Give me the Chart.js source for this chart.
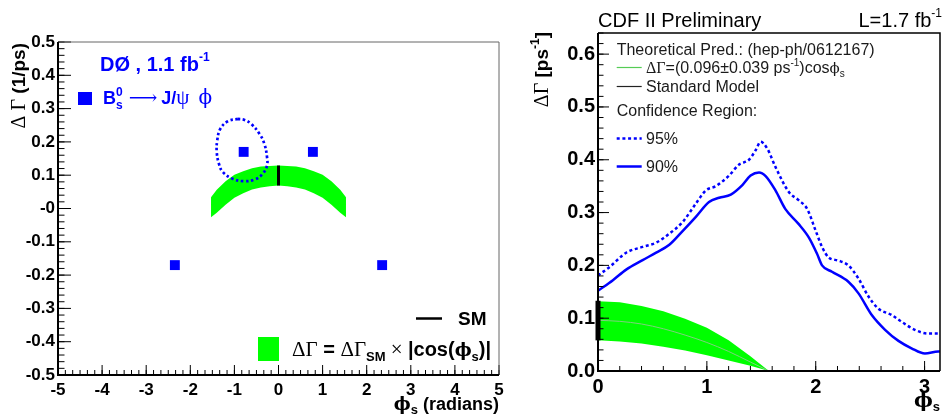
<!DOCTYPE html>
<html><head><meta charset="utf-8">
<script src="https://cdn.jsdelivr.net/npm/chart.js@4/dist/chart.umd.min.js"></script>
<style>
html,body{margin:0;padding:0;background:#fff;overflow:hidden}
#wrap{position:relative;width:942px;height:415px;background:#fff}
.c{position:absolute;top:0}
</style></head><body>
<div id="wrap">
<div class="c" style="left:0;width:515px;height:415px"><canvas id="left" width="515" height="415"></canvas></div>
<div class="c" style="left:515px;width:427px;height:415px"><canvas id="right" width="427" height="415"></canvas></div>
</div>
<script>
// ---------------- LEFT PANEL (D0) ----------------
const leftXTicks = [-5,-4,-3,-2,-1,0,1,2,3,4,5];
const leftXLabels = ['-5','-4','-3','-2','-1','0','1','2','3','4','5'];
const leftYTicks = [-0.5,-0.4,-0.3,-0.2,-0.1,0,0.1,0.2,0.3,0.4,0.5];
const leftYLabels = ['-0.5','-0.4','-0.3','-0.2','-0.1','-0','0.1','0.2','0.3','0.4','0.5'];

const solutionX = [-2.35,-0.79,0.78,2.35];
const solutionY = [-0.17,0.17,0.17,-0.17];

const contourX = [-0.92,-1.15,-1.32,-1.39,-1.40,-1.35,-1.26,-1.04,-0.79,-0.54,-0.36,-0.26,-0.26,-0.32,-0.43,-0.62,-0.77,-0.92];
const contourY = [0.269,0.262,0.239,0.204,0.169,0.134,0.109,0.089,0.082,0.087,0.104,0.129,0.154,0.194,0.224,0.254,0.266,0.269];

const smBandX      = [-1.53,-1.4,-1.2,-1.0,-0.8,-0.6,-0.4,-0.2,0,0.2,0.4,0.6,0.8,1.0,1.2,1.4,1.53];
const smBandTop    = [0.034,0.056,0.082,0.101,0.112,0.121,0.126,0.128,0.129,0.128,0.126,0.121,0.112,0.101,0.082,0.056,0.034];
const smBandBottom = [-0.026,-0.013,0.011,0.032,0.046,0.057,0.063,0.067,0.069,0.067,0.063,0.057,0.046,0.032,0.011,-0.013,-0.026];

const smLeftX = [0,0];
const smLeftY = [0.069,0.129];

// ---------------- RIGHT PANEL (CDF) ----------------
const rightXTicks = [0,1,2,3];
const rightXLabels = ['0','1','2','3'];
const rightYTicks = [0,0.1,0.2,0.3,0.4,0.5,0.6];
const rightYLabels = ['0.0','0.1','0.2','0.3','0.4','0.5','0.6'];

const cl95X = [0,0.107,0.259,0.41,0.534,0.655,0.777,0.899,0.991,1.082,1.204,1.296,1.387,1.448,1.494,1.555,1.631,1.753,1.845,1.921,1.997,2.058,2.119,2.21,2.30,2.393,2.485,2.576,2.698,2.79,2.91,3.03,3.14];
const cl95Y = [0.181,0.197,0.224,0.235,0.243,0.260,0.282,0.317,0.342,0.350,0.370,0.391,0.400,0.418,0.434,0.421,0.386,0.339,0.323,0.307,0.267,0.235,0.215,0.209,0.200,0.175,0.141,0.118,0.106,0.093,0.078,0.071,0.071];

const cl90X = [0,0.137,0.259,0.41,0.534,0.655,0.777,0.899,1.02,1.113,1.22,1.326,1.402,1.479,1.54,1.63,1.72,1.84,1.936,2.012,2.058,2.149,2.30,2.393,2.515,2.637,2.76,2.88,3.003,3.125,3.14];
const cl90Y = [0.152,0.172,0.192,0.21,0.224,0.239,0.265,0.292,0.320,0.328,0.334,0.352,0.370,0.376,0.369,0.342,0.307,0.279,0.253,0.222,0.200,0.188,0.169,0.147,0.106,0.078,0.057,0.043,0.033,0.037,0.037];

const theoX      = [0,0.2,0.4,0.6,0.8,1.0,1.2,1.4,1.57];
const theoTop    = [0.132,0.130,0.123,0.113,0.099,0.082,0.058,0.028,0];
const theoCenter = [0.096,0.094,0.089,0.080,0.068,0.054,0.037,0.017,0];
const theoBottom = [0.058,0.056,0.052,0.046,0.039,0.030,0.020,0.010,0];

const smRightX = [0,0];
const smRightY = [0.058,0.133];

// ---------------- helpers ----------------
const BLUE = '#0000ff', GREEN = '#00ff00';
const PHI = 'ϕ';
const SANSB = n => `bold ${n}px "Liberation Sans", Arial, sans-serif`;
const SANS  = n => `${n}px "Liberation Sans", Arial, sans-serif`;
const SERIF = n => `${n}px "Liberation Serif", "DejaVu Serif", serif`;
const SYMB  = n => `${n}px "DejaVu Serif", "Liberation Serif", serif`;
const SYMBB = n => `bold ${n}px "DejaVu Serif", "Liberation Serif", serif`;
const pts = (xs, ys) => xs.map((x, i) => ({x, y: ys[i]}));

function richWidth(ctx, segs) {
  let w = 0;
  for (const s of segs) { ctx.font = s.f; if (s.adv !== false) w += ctx.measureText(s.t).width + (s.gap || 0); }
  return w;
}
function drawRich(ctx, x, y, segs, align, color) {
  const w = richWidth(ctx, segs);
  let cx = align === 'right' ? x - w : align === 'center' ? x - w / 2 : x;
  ctx.textBaseline = 'alphabetic'; ctx.textAlign = 'left';
  for (const s of segs) {
    ctx.font = s.f; ctx.fillStyle = s.c || color;
    ctx.fillText(s.t, cx, y + (s.dy || 0));
    if (s.adv !== false) cx += ctx.measureText(s.t).width + (s.gap || 0);
  }
}

const framePlugin = {
  id: 'frame',
  afterDatasetsDraw(chart, args, o) {
    const {ctx, chartArea: a} = chart;
    const x = chart.scales.x, y = chart.scales.y;
    ctx.save();
    ctx.strokeStyle = '#000'; ctx.lineWidth = 1; ctx.setLineDash([]);
    ctx.beginPath();
    for (const v of o.xMajor) { const p = x.getPixelForValue(v); ctx.moveTo(p, a.bottom); ctx.lineTo(p, a.bottom - o.xMajorLen); }
    let n = Math.floor((x.max - x.min) / o.xMinor + 1e-6);
    for (let i = 0; i <= n; i++) { const p = x.getPixelForValue(x.min + i * o.xMinor); ctx.moveTo(p, a.bottom); ctx.lineTo(p, a.bottom - o.xMinorLen); }
    for (const v of o.yMajor) { const p = y.getPixelForValue(v); ctx.moveTo(a.left, p); ctx.lineTo(a.left + o.yMajorLen, p); }
    n = Math.floor((y.max - y.min) / o.yMinor + 1e-6);
    for (let i = 0; i <= n; i++) { const p = y.getPixelForValue(y.min + i * o.yMinor); ctx.moveTo(a.left, p); ctx.lineTo(a.left + o.yMinorLen, p); }
    ctx.stroke();
    ctx.lineWidth = o.thin; ctx.strokeStyle = o.thinColor;
    ctx.beginPath(); ctx.moveTo(a.left, a.top); ctx.lineTo(a.right, a.top); ctx.lineTo(a.right, a.bottom); ctx.stroke();
    ctx.lineWidth = 2; ctx.strokeStyle = '#000';
    ctx.beginPath(); ctx.moveTo(a.left, a.top); ctx.lineTo(a.left, a.bottom); ctx.lineTo(a.right, a.bottom); ctx.stroke();
    ctx.restore();
  }
};

const leftText = {
  id: 'leftText',
  afterDraw(chart) {
    const ctx = chart.ctx;
    ctx.save();
    drawRich(ctx, 100, 71, [{t:'DØ , 1.1 fb', f:SANSB(20)}, {t:'-1', f:SANSB(12), dy:-10}], 'left', BLUE);
    ctx.fillStyle = BLUE; ctx.fillRect(78, 92, 14, 13);
    drawRich(ctx, 103, 104, [
      {t:'B', f:SANSB(18)},
      {t:'0', f:SANSB(12), dy:-8, adv:false},
      {t:'s', f:SANSB(12), dy:5, gap:6},
      {t:'⟶', f:SYMB(20), gap:4},
      {t:'J/', f:SANSB(18)},
      {t:'ψ', f:SERIF(21)},
      {t:'  ', f:SANSB(16)},
      {t:PHI, f:SYMB(20)}
    ], 'left', BLUE);
    // y title
    ctx.save(); ctx.translate(25, 43); ctx.rotate(-Math.PI / 2);
    drawRich(ctx, 0, 0, [{t:'Δ Γ', f:SERIF(20)}, {t:' (1/ps)', f:SANSB(19)}], 'right', '#000');
    ctx.restore();
    // x title
    drawRich(ctx, 499, 410, [{t:PHI, f:SYMBB(18)}, {t:'s', f:SANSB(13), dy:4}, {t:' (radians)', f:SANSB(18)}], 'right', '#000');
    // legend
    ctx.strokeStyle = '#000'; ctx.lineWidth = 2.5; ctx.beginPath(); ctx.moveTo(416, 318.5); ctx.lineTo(442, 318.5); ctx.stroke();
    drawRich(ctx, 458, 325, [{t:'SM', f:SANSB(19)}], 'left', '#000');
    ctx.fillStyle = GREEN; ctx.fillRect(258, 337, 21, 24);
    drawRich(ctx, 292, 356, [
      {t:'ΔΓ', f:SERIF(21)}, {t:' = ', f:SANSB(20)}, {t:'ΔΓ', f:SERIF(21)},
      {t:'SM', f:SANSB(13), dy:5}, {t:' × ', f:SERIF(21)}, {t:'|cos(', f:SANSB(20)},
      {t:PHI, f:SYMBB(18)}, {t:'s', f:SANSB(13), dy:5}, {t:')|', f:SANSB(20)}
    ], 'left', '#000');
    ctx.restore();
  }
};

const rightText = {
  id: 'rightText',
  afterDraw(chart) {
    const ctx = chart.ctx;
    ctx.save();
    drawRich(ctx, 83, 26.5, [{t:'CDF II Preliminary', f:SANS(20)}], 'left', '#000');
    drawRich(ctx, 427, 26.5, [{t:'L=1.7 fb', f:SANS(20)}, {t:'-1', f:SANS(12), dy:-10}], 'right', '#000');
    ctx.save(); ctx.translate(33, 32); ctx.rotate(-Math.PI / 2);
    drawRich(ctx, 0, 0, [{t:'ΔΓ', f:SERIF(20)}, {t:' [ps', f:SANSB(19)}, {t:'-1', f:SANSB(12), dy:-9}, {t:']', f:SANSB(19)}], 'right', '#000');
    ctx.restore();
    drawRich(ctx, 425, 407, [{t:PHI, f:SYMBB(20)}, {t:'s', f:SANSB(13), dy:4}], 'right', '#000');
    // legend
    const lx0 = 101.7, lx1 = 126.7, tx = 131;
    const col = '#1a1a1a';
    drawRich(ctx, lx0, 55, [{t:'Theoretical Pred.: (hep-ph/0612167)', f:SANS(16)}], 'left', col);
    ctx.lineWidth = 1.2; ctx.strokeStyle = '#55cc55';
    ctx.beginPath(); ctx.moveTo(lx0, 67.5); ctx.lineTo(lx1, 67.5); ctx.stroke();
    drawRich(ctx, tx, 72.5, [
      {t:'ΔΓ', f:SERIF(16)}, {t:'=(0.096±0.039 ps', f:SANS(16)}, {t:'-1', f:SANS(10), dy:-7},
      {t:')cos', f:SANS(16)}, {t:PHI, f:SYMB(15)}, {t:'s', f:SANS(10), dy:4}
    ], 'left', col);
    ctx.lineWidth = 1.2; ctx.strokeStyle = '#222';
    ctx.beginPath(); ctx.moveTo(lx0, 86.5); ctx.lineTo(lx1, 86.5); ctx.stroke();
    drawRich(ctx, tx, 91.7, [{t:'Standard Model', f:SANS(16)}], 'left', col);
    drawRich(ctx, lx0, 116, [{t:'Confidence Region:', f:SANS(16)}], 'left', col);
    ctx.lineWidth = 2.5; ctx.strokeStyle = BLUE; ctx.setLineDash([3, 2.7]);
    ctx.beginPath(); ctx.moveTo(lx0, 138.5); ctx.lineTo(lx1, 138.5); ctx.stroke();
    ctx.setLineDash([]);
    drawRich(ctx, tx, 144, [{t:'95%', f:SANS(16)}], 'left', col);
    ctx.beginPath(); ctx.moveTo(lx0, 166.5); ctx.lineTo(lx1, 166.5); ctx.stroke();
    drawRich(ctx, tx, 171.7, [{t:'90%', f:SANS(16)}], 'left', col);
    ctx.restore();
  }
};

function axisOpts(min, max, ticks, labels, fontSize, pad, fit) {
  return {
    type: 'linear', min, max,
    grid: {display: false, drawTicks: false},
    border: {display: false},
    afterBuildTicks: s => { s.ticks = ticks.map(v => ({value: v})); },
    afterFit: fit,
    ticks: {
      padding: pad, autoSkip: false, maxRotation: 0, minRotation: 0, color: '#000',
      font: {family: '"Liberation Sans", Arial, sans-serif', weight: 'bold', size: fontSize},
      callback: (v, i) => labels[i]
    }
  };
}

const common = {
  responsive: false, animation: false, events: [],
  elements: {point: {radius: 0}},
};

new Chart(document.getElementById('left'), {
  type: 'scatter',
  data: {datasets: [
    {data: pts(smBandX, smBandTop), showLine: true, fill: '+1', backgroundColor: GREEN, borderColor: 'rgba(0,0,0,0)', borderWidth: 0, pointRadius: 0, order: 10},
    {data: pts(smBandX, smBandBottom), showLine: true, fill: false, borderColor: 'rgba(0,0,0,0)', borderWidth: 0, pointRadius: 0, order: 10},
    {data: pts(smLeftX, smLeftY), showLine: true, borderColor: '#000', borderWidth: 3, pointRadius: 0, order: 4},
    {data: pts(contourX, contourY), showLine: true, borderColor: BLUE, borderWidth: 2.7, borderDash: [2.5, 2.6], tension: 0.4, pointRadius: 0, order: 3},
    {data: pts(solutionX, solutionY), showLine: false, pointStyle: 'rect', pointRadius: 7, backgroundColor: BLUE, borderColor: BLUE, borderWidth: 0, order: 1}
  ]},
  options: Object.assign({}, common, {
    layout: {padding: {top: 42, right: 16, left: 0, bottom: 0}},
    plugins: {
      legend: {display: false}, tooltip: {enabled: false},
      frame: {xMajor: leftXTicks, xMinor: 1/6, xMajorLen: 10, xMinorLen: 5,
              yMajor: leftYTicks, yMinor: 0.02, yMajorLen: 13, yMinorLen: 6.5, thin: 1, thinColor: '#666'}
    },
    scales: {
      x: axisOpts(-5, 5, leftXTicks, leftXLabels, 17, 5, s => { s.height = 40; }),
      y: axisOpts(-0.5, 0.5, leftYTicks, leftYLabels, 17, 3, s => { s.width = 58; })
    }
  }),
  plugins: [framePlugin, leftText]
});

new Chart(document.getElementById('right'), {
  type: 'scatter',
  data: {datasets: [
    {data: pts(theoX, theoTop), showLine: true, fill: '+1', backgroundColor: GREEN, borderColor: 'rgba(0,0,0,0)', borderWidth: 0, pointRadius: 0, order: 10},
    {data: pts(theoX, theoBottom), showLine: true, fill: false, borderColor: 'rgba(0,0,0,0)', borderWidth: 0, pointRadius: 0, order: 10},
    {data: pts(theoX, theoCenter), showLine: true, borderColor: '#7fd07f', borderWidth: 1, pointRadius: 0, cubicInterpolationMode: 'monotone', order: 9},
    {data: pts(cl95X, cl95Y), showLine: true, borderColor: BLUE, borderWidth: 2.5, borderDash: [3, 2.7], cubicInterpolationMode: 'monotone', pointRadius: 0, order: 5},
    {data: pts(cl90X, cl90Y), showLine: true, borderColor: BLUE, borderWidth: 2.5, cubicInterpolationMode: 'monotone', pointRadius: 0, order: 5},
    {data: pts(smRightX, smRightY), showLine: true, borderColor: '#000', borderWidth: 5, pointRadius: 0, clip: false, order: 1}
  ]},
  options: Object.assign({}, common, {
    layout: {padding: {top: 33, right: 2, left: 0, bottom: 0}},
    plugins: {
      legend: {display: false}, tooltip: {enabled: false},
      frame: {xMajor: rightXTicks, xMinor: 0.2, xMajorLen: 10, xMinorLen: 5,
              yMajor: rightYTicks, yMinor: 0.02, yMajorLen: 11, yMinorLen: 5.5, thin: 1.5, thinColor: '#000'}
    },
    scales: {
      x: axisOpts(0, Math.PI, rightXTicks, rightXLabels, 20, 4, s => { s.height = 44; }),
      y: axisOpts(0, 0.64, rightYTicks, rightYLabels, 20, 3, s => { s.width = 83; })
    }
  }),
  plugins: [framePlugin, rightText]
});
</script>
</body></html>
